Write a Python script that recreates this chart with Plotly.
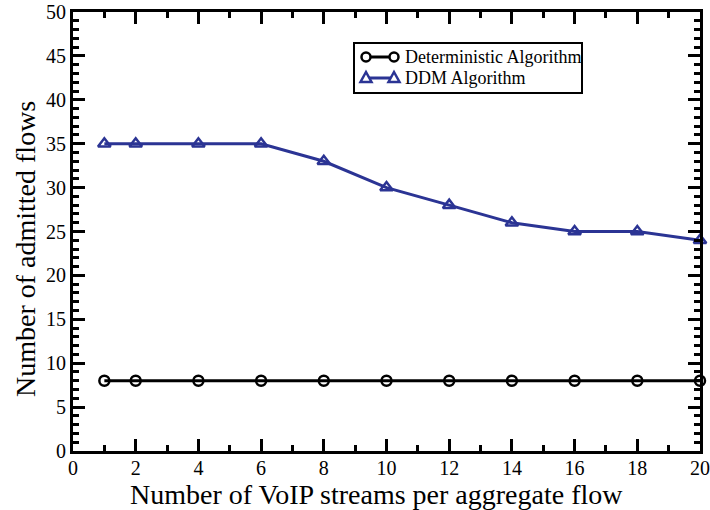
import plotly.graph_objects as go

# Number of VoIP streams per aggregate flow
streams = [1, 2, 4, 6, 8, 10, 12, 14, 16, 18, 20]
# Admitted flows per algorithm
deterministic = [8, 8, 8, 8, 8, 8, 8, 8, 8, 8, 8]
ddm = [35, 35, 35, 35, 33, 30, 28, 26, 25, 25, 24]
series_names = ["Deterministic Algorithm", "DDM Algorithm"]

x_ticks = list(range(0, 21, 2))
y_ticks = list(range(0, 51, 5))

font_family = "Liberation Serif, Times New Roman, serif"
BLACK = "black"
BLUE = "#2b3494"

W, H = 710, 510
M_L, M_R, M_T, M_B = 73, 10, 12, 59
PW, PH = W - M_L - M_R, H - M_T - M_B


def px(x):
    """Horizontal pixel position -> paper coordinate."""
    return (x - M_L) / PW


def py(y):
    """Vertical pixel position (from top) -> paper coordinate."""
    return (H - M_B - y) / PH


fig = go.Figure()
fig.add_trace(go.Scatter(
    x=streams, y=deterministic, name=series_names[0],
    mode="lines+markers", cliponaxis=False, showlegend=False,
    line=dict(color=BLACK, width=3),
    marker=dict(symbol="circle-open", size=10, color=BLACK, line=dict(width=2.5)),
))
fig.add_trace(go.Scatter(
    x=streams, y=ddm, name=series_names[1],
    mode="lines+markers", cliponaxis=False, showlegend=False,
    line=dict(color=BLUE, width=3),
    marker=dict(symbol="triangle-up-open", size=11, color=BLUE, line=dict(width=2.5)),
))

axis_common = dict(
    showline=True, linecolor=BLACK, linewidth=3, mirror="ticks",
    ticks="inside", tickcolor=BLACK, tickwidth=3, ticklen=12,
    showgrid=False, zeroline=False, automargin=False,
    ticklabeloverflow="allow",
    tickfont=dict(family=font_family, size=20, color=BLACK),
)

fig.update_xaxes(
    range=[0, 20], tickvals=x_ticks, ticktext=[str(v) for v in x_ticks],
    ticklabelstandoff=-3,
    minor=dict(dtick=1, ticks="inside", ticklen=6, tickwidth=3, tickcolor=BLACK, showgrid=False),
    **axis_common,
)
fig.update_yaxes(
    range=[0, 50], tickvals=y_ticks, ticktext=[str(v) for v in y_ticks],
    minor=dict(dtick=1, ticks="inside", ticklen=6, tickwidth=3, tickcolor=BLACK, showgrid=False),
    **axis_common,
)

title_font = dict(family=font_family, size=28, color=BLACK)
annotations = [
    dict(text="Number of VoIP streams per aggregate flow", xref="paper", yref="paper",
         x=px(376.5), y=py(494.5), xanchor="center", yanchor="middle", borderpad=0,
         showarrow=False, font=title_font),
    dict(text="Number of admitted flows", xref="paper", yref="paper",
         x=px(25), y=py(249), xanchor="center", yanchor="middle", textangle=-90,
         showarrow=False, font=title_font),
]

# Legend box drawn with shapes so its rows sit as tightly as the axis labels
shapes = [dict(type="rect", xref="paper", yref="paper",
               x0=px(354), x1=px(582), y0=py(43), y1=py(93),
               line=dict(color=BLACK, width=2), fillcolor="white", layer="above")]

legend_rows = [(57, BLACK, "circle"), (78, BLUE, "triangle")]
sym_left, sym_right = 366, 394
for (row_y, color, sym), name in zip(legend_rows, series_names):
    shapes.append(dict(type="line", xref="paper", yref="paper",
                       x0=px(sym_left), x1=px(sym_right), y0=py(row_y), y1=py(row_y),
                       line=dict(color=color, width=3), layer="above"))
    for cx in (sym_left, sym_right):
        if sym == "circle":
            r = 4.5
            shapes.append(dict(type="circle", xref="paper", yref="paper",
                               x0=px(cx - r), x1=px(cx + r), y0=py(row_y - r), y1=py(row_y + r),
                               line=dict(color=color, width=2.5), fillcolor="white", layer="above"))
        else:
            path = "M {:.5f} {:.5f} L {:.5f} {:.5f} L {:.5f} {:.5f} Z".format(
                px(cx - 5.5), py(row_y + 4), px(cx + 5.5), py(row_y + 4), px(cx), py(row_y - 6))
            shapes.append(dict(type="path", xref="paper", yref="paper", path=path,
                               line=dict(color=color, width=2.5), fillcolor="white", layer="above"))
    annotations.append(dict(text=name, xref="paper", yref="paper",
                            x=px(403), y=py(row_y), xanchor="left", yanchor="middle",
                            showarrow=False,
                            font=dict(family=font_family, size=18, color=BLACK)))

fig.update_layout(
    width=W, height=H,
    margin=dict(l=M_L, r=M_R, t=M_T, b=M_B),
    plot_bgcolor="white", paper_bgcolor="white",
    showlegend=False,
    shapes=shapes,
    annotations=annotations,
)

fig.write_html("out.html")
